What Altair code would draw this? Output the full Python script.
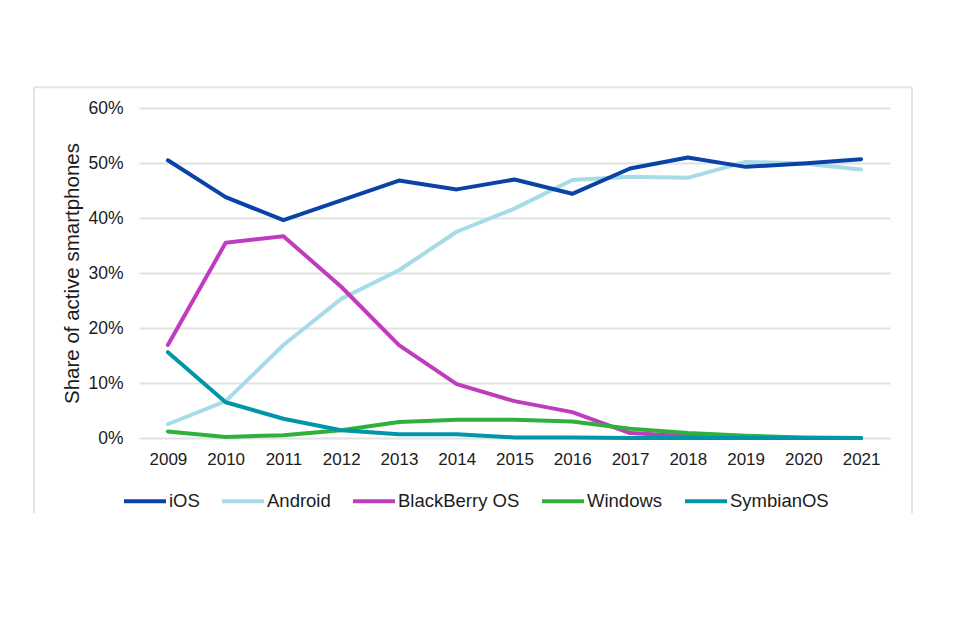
import altair as alt
import pandas as pd

years = [str(y) for y in range(2009, 2022)]
ios = [50.5, 43.8, 39.6, 43.2, 46.8, 45.2, 47.0, 44.4, 49.0, 51.0, 49.3, 49.9, 50.7]
android = [2.5, 6.7, 16.9, 25.3, 30.5, 37.5, 41.7, 46.9, 47.5, 47.3, 50.2, 49.9, 48.8]
blackberry = [16.9, 35.5, 36.7, 27.5, 16.9, 9.8, 6.7, 4.7, 0.9, 0.3, 0.1, 0.0, 0.0]
windows = [1.2, 0.2, 0.5, 1.4, 2.9, 3.3, 3.3, 3.0, 1.7, 0.9, 0.4, 0.1, 0.0]
symbian = [15.6, 6.5, 3.5, 1.4, 0.7, 0.7, 0.1, 0.1, 0.0, 0.0, 0.0, 0.0, 0.0]

series_names = ["iOS", "Android", "BlackBerry OS", "Windows", "SymbianOS"]
series_colors = ["#0a43a8", "#a6dbe8", "#c03cbe", "#2fb03c", "#0096a8"]
draw_order = [("Android", android), ("BlackBerry OS", blackberry),
              ("Windows", windows), ("SymbianOS", symbian), ("iOS", ios)]

rows = []
for name, vals in draw_order:
    for yr, v in zip(years, vals):
        rows.append({"year": yr, "share": v, "os": name})
df = pd.DataFrame(rows)

FONT = "Liberation Sans"
TXT = "#1c1c1c"

lines = alt.Chart(df).mark_line(strokeWidth=4, strokeJoin="round", strokeCap="round").encode(
    x=alt.X("year:O", sort=years,
            axis=alt.Axis(title=None, labelAngle=0, domain=False, ticks=False, grid=False,
                          labelPadding=13, labelFontSize=17, labelFont=FONT, labelColor=TXT)),
    y=alt.Y("share:Q", scale=alt.Scale(domain=[0, 60], nice=False),
            axis=alt.Axis(title="Share of active smartphones", values=[0, 10, 20, 30, 40, 50, 60],
                          labelExpr="datum.value + '%'", domain=False, ticks=False,
                          labelPadding=16, labelFontSize=17.5, labelFont=FONT, labelColor=TXT,
                          gridColor="#e2e2e2", gridWidth=2,
                          titleFont=FONT, titleFontSize=20.5, titleFontWeight="normal",
                          titleColor=TXT, titleX=-67, titleY=165, titleAlign="center",
                          titleBaseline="middle", titleAngle=270)),
    color=alt.Color("os:N", scale=alt.Scale(domain=series_names, range=series_colors),
                    legend=alt.Legend(title=None, orient="none", direction="horizontal",
                                      legendX=-17, legendY=370, symbolType="stroke",
                                      symbolSize=1764, symbolStrokeWidth=4,
                                      labelOffset=1, columnPadding=14,
                                      labelFont=FONT, labelFontSize=18.5, labelColor=TXT)),
)

frame_data = alt.Data(values=[{"a": 1}])
FRAME = "#e4e4e4"
left = alt.Chart(frame_data).mark_rule(color=FRAME, strokeWidth=2).encode(
    x=alt.value(-105), y=alt.value(-20.7), y2=alt.value(405.3))
top = alt.Chart(frame_data).mark_rule(color=FRAME, strokeWidth=2).encode(
    x=alt.value(-105), x2=alt.value(773), y=alt.value(-20.7))
right = alt.Chart(frame_data).mark_rule(color=FRAME, strokeWidth=2).encode(
    x=alt.value(773), y=alt.value(-20.7), y2=alt.value(405.3))

chart = alt.layer(left, top, right, lines).properties(
    width=751, height=330,
    autosize=alt.AutoSizeParams(type="none"),
    padding={"left": 131, "top": 100, "right": 62, "bottom": 190},
).configure_view(stroke=None)

chart.save("out.html", embed_options={"renderer": "svg", "actions": False})
